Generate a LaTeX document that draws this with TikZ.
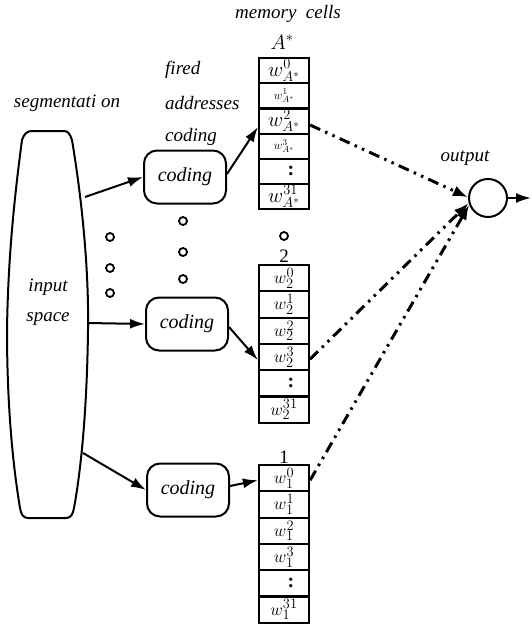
\documentclass[tikz,border=0pt]{standalone}
\usepackage{fontspec}
\setmainfont{Liberation Serif}
\usetikzlibrary{arrows.meta}
\newcommand{\vcol}{\hspace*{14pt}\raisebox{0pt}{\fontsize{20}{20}\selectfont\bfseries :}}
\begin{document}
\begin{tikzpicture}[x=1pt,y=-1pt,
  lbl/.style={font=\fontsize{19}{22}\selectfont\itshape, inner sep=0pt},
  codebox/.style={draw, line width=2pt, rounded corners=13pt, minimum width=82pt, minimum height=53pt, inner sep=0pt, font=\fontsize{20}{22}\selectfont\itshape},
  celltop/.style={draw, line width=2.2pt, minimum width=50pt, minimum height=25.2pt, inner sep=0pt, font=\fontsize{21}{21}\selectfont},
  cellx/.style={draw, line width=2.2pt, minimum width=50pt, minimum height=26.3pt, inner sep=0pt, font=\fontsize{19}{19}\selectfont},
  smallw/.style={font=\fontsize{13}{13}\selectfont},
  dotc/.style={draw, circle, line width=1.8pt, minimum size=8pt, inner sep=0pt},
  arr/.style={-{Latex[length=15pt,width=10pt]}, line width=2pt},
  dd/.style={-{Latex[length=15pt,width=11pt]}, line width=3pt, dash pattern=on 11pt off 5.5pt on 2.5pt off 5.5pt on 2.5pt off 5.5pt}
]
\useasboundingbox (0,0) rectangle (531,626);

% input space barrel
\draw[line width=2pt] (32,131) -- (64,131)
  .. controls (68,131) and (70,134) .. (72,140)
  .. controls (82,200) and (89,270) .. (88,330)
  .. controls (87,410) and (81,470) .. (74,508)
  .. controls (73,514) and (71,518) .. (66,518)
  -- (28,518)
  .. controls (23,518) and (21,514) .. (20,508)
  .. controls (12,460) and (7,400) .. (7,330)
  .. controls (8,260) and (14,200) .. (22,140)
  .. controls (24,134) and (27,131) .. (32,131) -- cycle;
\node[lbl, align=center] (inp) at (48,302) {input\\[8pt]space};
\coordinate (s1) at (85,197);
\coordinate (s2) at (88,323);
\coordinate (s3) at (83,453);

% labels
\node[lbl] (seg) at (67,103) {segmentati on};
\node[lbl, anchor=west] (fired) at (165,70) {fired};
\node[lbl, anchor=west] (addr) at (165,103) {addresses};
\node[lbl, anchor=west] (codl) at (165,137) {coding};
\node[lbl] (mem) at (288,14) {memory\ \ cells};
\node[lbl, font=\fontsize{21}{22}\selectfont] (astar) at (282,42) {$A^{*}$};
\node[lbl, font=\fontsize{19}{22}\selectfont] (lab2) at (284,256) {2};
\node[lbl, font=\fontsize{19}{22}\selectfont] (lab1) at (284,457) {1};
\node[lbl] (outl) at (465,158) {output};

% coding boxes
\node[codebox] (c1) at (185,177) {coding};
\node[codebox] (c2) at (187,324) {coding};
\node[codebox] (c3) at (188,490) {coding};

% dots
\node[dotc] (d1) at (110,237) {};
\node[dotc] (d2) at (110,268) {};
\node[dotc] (d3) at (110,293) {};
\node[dotc] (d4) at (183,221) {};
\node[dotc] (d5) at (183,252) {};
\node[dotc] (d6) at (183,279) {};
\node[dotc] (d7) at (284,236) {};

% top column (A*)
\node[celltop] (a0) at (284,70.6) {$w^{0}_{A^*}$};
\node[celltop, smallw] (a1) at (284,95.8) {$w^{1}_{A^*}$};
\node[celltop] (a2) at (284,121) {$w^{2}_{A^*}$};
\node[celltop, smallw] (a3) at (284,146.2) {$w^{3}_{A^*}$};
\node[celltop] (a4) at (284,171.4) {\vcol};
\node[celltop] (a5) at (284,196.6) {$w^{31}_{A^*}$};

% middle column (2)
\node[cellx] (b0) at (284,278.2) {$w^{0}_{2}$};
\node[cellx] (b1) at (284,304.5) {$w^{1}_{2}$};
\node[cellx] (b2) at (284,330.8) {$w^{2}_{2}$};
\node[cellx] (b3) at (284,357.1) {$w^{3}_{2}$};
\node[cellx] (b4) at (284,383.4) {\vcol};
\node[cellx] (b5) at (284,409.7) {$w^{31}_{2}$};

% bottom column (1)
\node[cellx] (e0) at (284,478.2) {$w^{0}_{1}$};
\node[cellx] (e1) at (284,504.5) {$w^{1}_{1}$};
\node[cellx] (e2) at (284,530.8) {$w^{2}_{1}$};
\node[cellx] (e3) at (284,557.1) {$w^{3}_{1}$};
\node[cellx] (e4) at (284,583.4) {\vcol};
\node[cellx] (e5) at (284,609.7) {$w^{31}_{1}$};

% output
\node[draw, circle, line width=2pt, minimum size=38pt, inner sep=0pt] (out) at (488,198) {};
\coordinate (oend) at (531,198);

% arrows input -> coding
\draw[arr] (s1) -- (c1.west);
\draw[arr] (s2) -- (c2.west);
\draw[arr] (s3) -- (c3.west);

% coding -> cells
\draw[arr] ([yshift=3pt]c1.east) -- ([yshift=-6pt]a2.west);
\draw[arr] ([yshift=-3pt]c2.east) -- ([yshift=-3pt]b3.west);
\draw[arr] ([yshift=4pt]c3.east) -- ([yshift=-2pt]e0.west);

% cells -> output
\draw[dd] ([yshift=-4pt]a2.east) -- (out.178);
\draw[dd] ([yshift=-2pt]b3.east) -- (out.195);
\draw[dd] ([yshift=-2pt]e0.east) -- (out.200);
\draw[arr] (out.east) -- (oend);
\end{tikzpicture}
\end{document}
